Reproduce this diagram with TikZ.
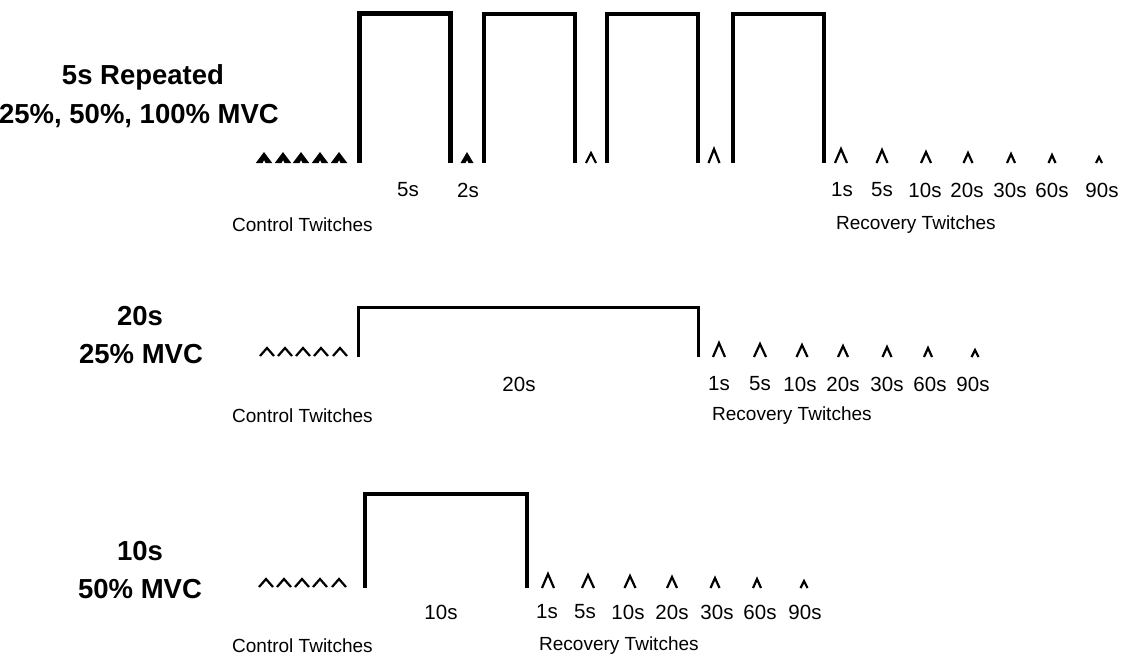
\documentclass[tikz,border=0pt]{standalone}
\usepackage{fontspec}
\setmainfont{Liberation Sans}
\tikzset{
  ttl/.style={font=\fontsize{27.5}{32}\selectfont\bfseries, inner sep=0pt},
  lbl/.style={font=\fontsize{20.5}{24}\selectfont, inner sep=0pt},
  grp/.style={font=\fontsize{19}{22}\selectfont, inner sep=0pt, anchor=west},
  pulse/.style={line width=3.5pt, line join=miter, line cap=butt},
  tw/.style={line width=2.2pt, line join=miter, line cap=butt},
  twfill/.style={fill=black, draw=none},
}
% open twitch mark: x, base y, width, height, style
\newcommand\twch[5]{\draw[#5] ({#1-#3/2},#2) -- (#1,{#2-#4}) -- ({#1+#3/2},#2);}
% filled twitch mark: x, base y, width, height
\newcommand\twfl[4]{\fill[twfill] ({#1-#3/2},#2) -- (#1,{#2-#4}) -- ({#1+#3/2},#2) -- ({#1+1.5},#2) -- (#1,{#2-3}) -- ({#1-1.5},#2) -- cycle;}
\begin{document}
\begin{tikzpicture}[x=1pt,y=-1pt]
\useasboundingbox[fill=white] (0,0) rectangle (1123,657);
% ---------- Panel 1 ----------
\node[ttl] (t1a) at (143,77) {5s Repeated};
\node[ttl] (t1b) at (139,116) {25\%, 50\%, 100\% MVC};
\draw[pulse, line width=5pt] (359,163) -- (359,13) -- (450,13) -- (450,163);
\draw[pulse] (484,163) -- (484,14) -- (575,14) -- (575,163);
\draw[pulse] (607,163) -- (607,14) -- (698,14) -- (698,163);
\draw[pulse] (733,163) -- (733,14) -- (824,14) -- (824,163);
\foreach \x in {264,283,301,320,339}{\twfl{\x}{163}{16.5}{11}}
\twfl{467}{163}{13}{11}
\twch{591}{163}{10}{10}{tw}
\twch{714}{163}{11}{14}{tw}
\twch{841}{163}{12}{14}{tw}
\twch{882}{163}{11}{13}{tw}
\twch{926}{163}{10}{11}{tw}
\twch{968}{163}{9}{10}{tw}
\twch{1011}{163}{8}{9}{tw}
\twch{1052}{163}{7}{8}{tw}
\twch{1099}{163}{6}{6}{tw}
\node[lbl] (p1d5) at (408,190) {5s};
\node[lbl] (p1d2) at (468,190) {2s};
\node[lbl] (p1r1) at (842,190) {1s};
\node[lbl] (p1r2) at (882,190) {5s};
\node[lbl] (p1r3) at (925,190) {10s};
\node[lbl] (p1r4) at (967,190) {20s};
\node[lbl] (p1r5) at (1010,190) {30s};
\node[lbl] (p1r6) at (1052,190) {60s};
\node[lbl] (p1r7) at (1102,190) {90s};
\node[grp] (p1c) at (232,225) {Control Twitches};
\node[grp] (p1r) at (836,225) {Recovery Twitches};
% ---------- Panel 2 ----------
\node[ttl] (t2a) at (140,316) {20s};
\node[ttl] (t2b) at (141,354) {25\% MVC};
\draw[pulse, line width=3pt] (358,357) -- (358,307) -- (698,307) -- (698,357);
\foreach \x in {267,285,303,321,340}{\twch{\x}{356}{14}{8}{tw}}
\twch{719}{357}{12}{14}{tw}
\twch{760}{357}{12}{13}{tw}
\twch{802}{357}{11}{12}{tw}
\twch{843}{357}{10}{11}{tw}
\twch{887}{357}{9}{10}{tw}
\twch{928}{357}{8}{9}{tw}
\twch{975}{357}{7}{7}{tw}
\node[lbl] (p2d) at (519,384) {20s};
\node[lbl] (p2r1) at (719,384) {1s};
\node[lbl] (p2r2) at (760,384) {5s};
\node[lbl] (p2r3) at (800,384) {10s};
\node[lbl] (p2r4) at (843,384) {20s};
\node[lbl] (p2r5) at (887,384) {30s};
\node[lbl] (p2r6) at (930,384) {60s};
\node[lbl] (p2r7) at (973,384) {90s};
\node[grp] (p2c) at (232,416) {Control Twitches};
\node[grp] (p2r) at (712,416) {Recovery Twitches};
% ---------- Panel 3 ----------
\node[ttl] (t3a) at (140,551) {10s};
\node[ttl] (t3b) at (140,589) {50\% MVC};
\draw[pulse, line width=3.5pt] (365,588) -- (365,494) -- (527,494) -- (527,588);
\foreach \x in {266,284,302,320,339}{\twch{\x}{587}{14}{8}{tw}}
\twch{548}{588}{12}{14}{tw}
\twch{588}{588}{12}{13}{tw}
\twch{630}{588}{11}{12}{tw}
\twch{672}{588}{10}{11}{tw}
\twch{715}{588}{9}{10}{tw}
\twch{757}{588}{8}{9}{tw}
\twch{804}{588}{7}{7}{tw}
\node[lbl] (p3d) at (441,612) {10s};
\node[lbl] (p3r1) at (547,612) {1s};
\node[lbl] (p3r2) at (585,612) {5s};
\node[lbl] (p3r3) at (628,612) {10s};
\node[lbl] (p3r4) at (672,612) {20s};
\node[lbl] (p3r5) at (717,612) {30s};
\node[lbl] (p3r6) at (760,612) {60s};
\node[lbl] (p3r7) at (805,612) {90s};
\node[grp] (p3c) at (232,646) {Control Twitches};
\node[grp] (p3r) at (539,646) {Recovery Twitches};
\end{tikzpicture}
\end{document}
